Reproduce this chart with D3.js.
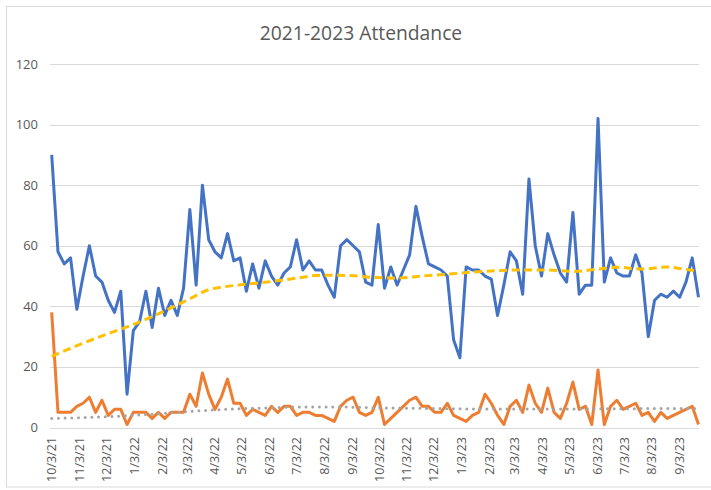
<!DOCTYPE html>
<html>
<head>
<meta charset="utf-8">
<script src="https://cdn.jsdelivr.net/npm/d3@7"></script>
<style>
  html, body { margin: 0; padding: 0; background: #fff; }
  svg text { font-family: "Open Sans", "Liberation Sans", sans-serif; fill: #595959; }
</style>
</head>
<body>
<div id="chart"></div>
<script>
(function () {
  'use strict';

  // ── Data ───────────────────────────────────────────────
  var startDate = new Date(2021, 9, 3); // first Sunday, weekly points
  var attendance = [
    90, 58, 54, 56, 39, 50, 60, 50, 48, 42, 38, 45, 11, 32, 35, 45, 33, 46, 37, 42,
    37, 46, 72, 47, 80, 62, 58, 56, 64, 55, 56, 45, 54, 46, 55, 50, 47, 51, 53, 62,
    52, 55, 52, 52, 47, 43, 60, 62, 60, 58, 48, 47, 67, 46, 53, 47, 52, 57, 73, 63,
    54, 53, 52, 50, 29, 23, 53, 52, 52, 50, 49, 37, 47, 58, 55, 44, 82, 60, 50, 64,
    57, 51, 48, 71, 44, 47, 47, 102, 48, 56, 51, 50, 50, 57, 51, 30, 42, 44, 43, 45,
    43, 48, 56, 43
  ];
  var second = [
    38, 5, 5, 5, 7, 8, 10, 5, 9, 4, 6, 6, 1, 5, 5, 5, 3, 5, 3, 5,
    5, 5, 11, 7, 18, 11, 6, 10, 16, 8, 8, 4, 6, 5, 4, 7, 5, 7, 7, 4,
    5, 5, 4, 4, 3, 2, 7, 9, 10, 5, 4, 5, 10, 1, 3, 5, 7, 9, 10, 7,
    7, 5, 5, 8, 4, 3, 2, 4, 5, 11, 8, 4, 1, 7, 9, 5, 14, 8, 5, 13,
    5, 3, 8, 15, 6, 7, 1, 19, 1, 7, 9, 6, 7, 8, 4, 5, 2, 5, 3, 4,
    5, 6, 7, 1
  ];

  // trend lines: week index -> value
  var trendAWeek = [0, 4, 9, 13, 18, 22, 25, 27, 31, 35, 39, 43, 47, 51, 55, 59, 63, 67, 71, 75, 79, 83, 87, 90, 94, 98, 101, 103];
  var trendAVal  = [23.5, 27, 31, 34, 38.5, 42.5, 45.5, 46.3, 47.3, 48.2, 49.3, 50.3, 50.2, 49.6, 49.3, 50, 50.6, 51.3, 51.8, 52, 52, 51.5, 52.3, 52.9, 52.3, 53, 52.2, 51.6];
  var trendBWeek = [0, 8, 13, 18, 22, 26, 30, 35, 40, 45, 52, 60, 70, 80, 90, 103];
  var trendBVal  = [3, 3.5, 4, 4.7, 5.3, 5.8, 6.2, 6.5, 6.8, 6.8, 6.5, 6.3, 6.1, 6.1, 6.2, 6.3];

  var yTicks = [0, 20, 40, 60, 80, 100, 120];
  var title = '2021-2023 Attendance';

  // ── Layout ─────────────────────────────────────────────
  var W = 711, H = 490;
  var weekDate = function (i) { return d3.timeDay.offset(startDate, 7 * i); };
  var dates = attendance.map(function (d, i) { return weekDate(i); });

  var tickDates = [];
  for (var m = 0; m < 24; m++) tickDates.push(new Date(2021, 9 + m, 3));

  var x = d3.scaleTime()
    .domain([dates[0], dates[dates.length - 1]])
    .range([51.7, 698.5]);
  var y = d3.scaleLinear().domain([0, 120]).range([427.5, 64]);

  var svg = d3.select('#chart').append('svg')
    .attr('width', W)
    .attr('height', H);

  svg.append('rect')
    .attr('x', 6.5).attr('y', 6.5)
    .attr('width', W + 10).attr('height', 480.5)
    .attr('fill', '#fff')
    .attr('stroke', '#d9d9d9');

  svg.append('text')
    .attr('x', 361)
    .attr('y', 40)
    .attr('text-anchor', 'middle')
    .style('font-size', '19.3px')
    .text(title);

  // gridlines
  svg.append('g').selectAll('line')
    .data(yTicks)
    .enter().append('line')
    .attr('x1', 50).attr('x2', 699)
    .attr('y1', function (d) { return Math.round(y(d)) + 0.5; })
    .attr('y2', function (d) { return Math.round(y(d)) + 0.5; })
    .attr('stroke', '#d9d9d9')
    .attr('stroke-width', 1);

  // y labels
  svg.append('g').selectAll('text')
    .data(yTicks)
    .enter().append('text')
    .attr('x', 38)
    .attr('y', function (d) { return y(d); })
    .attr('dy', '0.35em')
    .attr('text-anchor', 'end')
    .style('font-size', '13px')
    .text(function (d) { return d; });

  // x labels (rotated)
  var fmt = d3.timeFormat('%-m/%-d/%y');
  svg.append('g').selectAll('text')
    .data(tickDates)
    .enter().append('text')
    .attr('transform', function (d) { return 'translate(' + (x(d) + 4.5) + ',437) rotate(-90)'; })
    .attr('text-anchor', 'end')
    .style('font-size', '12.5px')
    .text(fmt);

  // ── Series ─────────────────────────────────────────────
  var line = d3.line()
    .x(function (d) { return x(d[0]); })
    .y(function (d) { return y(d[1]); });
  var smooth = d3.line()
    .curve(d3.curveMonotoneX)
    .x(function (d) { return x(d[0]); })
    .y(function (d) { return y(d[1]); });

  var zipWeeks = function (weeks, vals) {
    return weeks.map(function (w, i) { return [weekDate(w), vals[i]]; });
  };

  svg.append('path')
    .datum(dates.map(function (d, i) { return [d, second[i]]; }))
    .attr('d', line)
    .attr('fill', 'none')
    .attr('stroke', '#ed7d31')
    .attr('stroke-width', 3)
    .attr('stroke-linejoin', 'round');

  svg.append('path')
    .datum(dates.map(function (d, i) { return [d, attendance[i]]; }))
    .attr('d', line)
    .attr('fill', 'none')
    .attr('stroke', '#4472c4')
    .attr('stroke-width', 3)
    .attr('stroke-linejoin', 'round');

  svg.append('path')
    .datum(zipWeeks(trendBWeek, trendBVal))
    .attr('d', smooth)
    .attr('fill', 'none')
    .attr('stroke', '#a5a5a5')
    .attr('stroke-width', 3)
    .attr('stroke-linecap', 'round')
    .attr('stroke-dasharray', '0,6.7');

  svg.append('path')
    .datum(zipWeeks(trendAWeek, trendAVal))
    .attr('d', smooth)
    .attr('fill', 'none')
    .attr('stroke', '#ffc000')
    .attr('stroke-width', 3)
    .attr('stroke-dasharray', '8,4.5');
})();
</script>
</body>
</html>
